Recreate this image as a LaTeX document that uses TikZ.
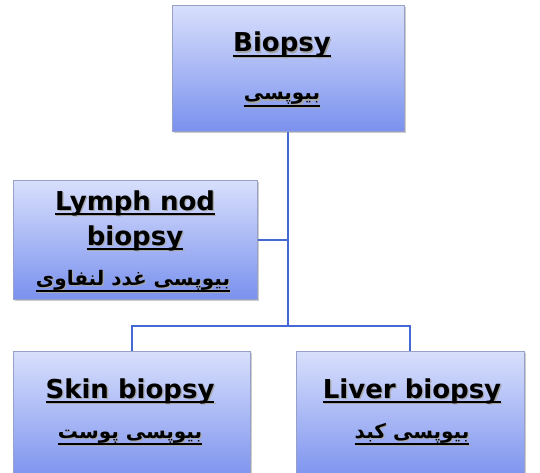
\documentclass[tikz,border=0pt]{standalone}
\usepackage{fontspec}
\setmainfont{DejaVu Sans}
\newfontfamily\arabicfont[Script=Arabic]{DejaVu Sans}
\TeXXeTstate=1
\usetikzlibrary{shadows}
\definecolor{boxtop}{RGB}{216,223,252}
\definecolor{boxbot}{RGB}{122,145,238}
\definecolor{boxline}{RGB}{150,160,200}
\definecolor{connc}{RGB}{68,104,212}
\newsavebox\ulbox
\newcommand\myul[2][5pt]{\sbox\ulbox{#2}\rlap{\usebox\ulbox}\rule[-#1]{\wd\ulbox}{1.6pt}}
\newcommand\shd[1]{\leavevmode\rlap{\kern1.3pt\raisebox{-1.3pt}{\color{black!35}#1}}#1}
\tikzset{
  box/.style={draw=boxline, line width=0.8pt, top color=boxtop, bottom color=boxbot,
    drop shadow={shadow xshift=2pt, shadow yshift=-2pt, fill=black, opacity=0.2},
    inner sep=0pt, anchor=north west},
  lat/.style={font=\fontsize{26}{30}\selectfont\bfseries, inner sep=0pt, anchor=base},
  per/.style={font=\fontsize{20}{24}\selectfont\arabicfont\bfseries, inner sep=0pt, anchor=base},
  conn/.style={draw=connc, line width=2pt}
}
\begin{document}
\begin{tikzpicture}[x=1pt,y=-1pt]
\useasboundingbox (0,0) rectangle (540,473);
\clip (0,0) rectangle (540,473);
% boxes
\node[box, minimum width=232pt, minimum height=126pt] (top) at (172,5) {};
\node[box, minimum width=244pt, minimum height=119pt] (lymph) at (13,180) {};
\node[box, minimum width=237pt, minimum height=130pt] (skin) at (13,351) {};
\node[box, minimum width=228pt, minimum height=130pt] (liver) at (296,351) {};
% connectors
\coordinate (junc) at (top.south |- 0,326);
\draw[conn] (top.south) -- (junc);
\draw[conn] (lymph.east) -- (lymph.east -| top.south);
\draw[conn] (skin.north) |- (junc) -| (liver.north);
% texts
\node[lat] (t1) at (282,52) {\shd{\myul{Biopsy}}};
\node[per] (t2) at (282,100) {\shd{\myul[7pt]{\beginR بیوپسی\endR}}};
\node[lat] (l1) at (135,210) {\shd{\myul{Lymph nod}}};
\node[lat] (l2) at (135,245) {\shd{\myul{biopsy}}};
\node[per] (l3) at (133,285) {\shd{\myul[7pt]{\beginR بیوپسی غدد لنفاوی\endR}}};
\node[lat] (s1) at (130,398) {\shd{\myul{Skin biopsy}}};
\node[per] (s2) at (130,438) {\shd{\myul[7pt]{\beginR بیوپسی پوست\endR}}};
\node[lat] (v1) at (412,398) {\shd{\myul{Liver biopsy}}};
\node[per] (v2) at (412,438) {\shd{\myul[7pt]{\beginR بیوپسی کبد\endR}}};
\end{tikzpicture}
\end{document}
